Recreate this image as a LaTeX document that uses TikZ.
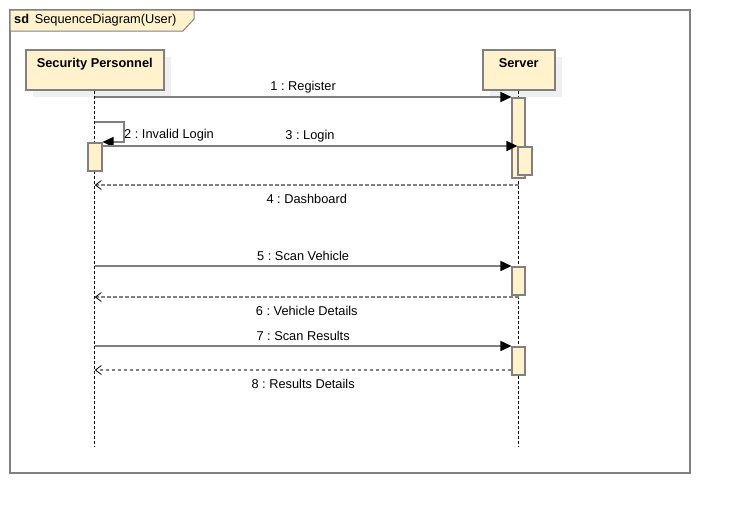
\documentclass[tikz,border=0pt]{standalone}
\usepackage{fontspec}
\setmainfont{Liberation Sans}
\usetikzlibrary{positioning,shadows,arrows.meta,calc}
\definecolor{cream}{HTML}{FFF2CC}
\definecolor{linegray}{HTML}{808080}
\frenchspacing

\begin{document}
\begin{tikzpicture}[x=1pt,y=-1pt,font=\fontsize{12.8}{15}\selectfont]
\tikzstyle{head} = [draw=linegray,fill=cream,line width=1.5pt,anchor=north west,inner xsep=0pt,inner ysep=8pt,text height=9.5pt,text depth=14.5pt,font=\fontsize{12.8}{15}\selectfont\bfseries,drop shadow={shadow xshift=7pt,shadow yshift=-7pt,fill=black!6,opacity=1}]
\tikzstyle{act} = [draw=linegray,fill=cream,line width=1.6pt,minimum width=13pt,inner sep=0pt,anchor=north]
\tikzstyle{life} = [black,line width=0.8pt,dash pattern=on 3pt off 2pt]
\tikzstyle{msg} = [linegray,line width=1.5pt,-{Triangle[length=11pt,width=10pt,black]}]
\tikzstyle{ret} = [linegray,line width=1.5pt,dash pattern=on 3.5pt off 2.5pt,-{Straight Barb[length=6pt,width=9pt,black,line width=0.8pt]}]
\useasboundingbox (0,0) rectangle (730,514);
% frame
\draw[linegray,line width=1.5pt] (10,10) rectangle (690,473);
\draw[linegray,fill=cream,line width=1pt] (10,10) -- (194,10) -- (194,19) -- (183,31) -- (10,31) -- cycle;
\node[anchor=west,inner sep=0pt] (title) at (14,20.5) {\textbf{sd}\, SequenceDiagram(User)};
% lifelines
\node[head,minimum width=138pt] (sp) at (25,49) {Security Personnel};
\node[head,minimum width=72pt] (sv) at (482,49) {Server};
\coordinate (spend) at (sp.south |- 0,447);
\coordinate (svend) at (sv.south |- 0,447);
\draw[life] (sp.south) -- (spend);
\draw[life] (sv.south) -- (svend);
% activations
\node[act,minimum height=80pt] (a1) at (sv.south |- 0,97) {};
\node[act,minimum width=14pt,minimum height=28pt] (a3) at ($(sv.south |- 0,146)+(6.5,0)$) {};
\node[act,minimum width=14pt,minimum height=28pt] (a2) at (sp.south |- 0,142) {};
\node[act,minimum height=28pt] (a4) at (sv.south |- 0,266) {};
\node[act,minimum height=28pt] (a5) at (sv.south |- 0,346) {};
% messages
\draw[msg] (sp.south |- a1.north) -- (a1.north west) node[midway,above=0pt,text=black] {1 : Register};
\draw[msg] (sp.south |- 0,122) -- ++(29,0) |- (a2.north east);
\node[anchor=west,inner sep=0pt] (l2) at (124,135.5) {2 : Invalid Login};
\draw[msg] (a2.east |- a3.north) -- (a3.north west) node[midway,above=0pt,text=black] {3 : Login};
\draw[ret] (sv.south |- 0,185) -- (sp.south |- 0,185) node[midway,below=5pt,text=black] {4 : Dashboard};
\draw[msg] (sp.south |- a4.north) -- (a4.north west) node[midway,above=1pt,text=black] {5 : Scan Vehicle};
\draw[ret] (sv.south |- 0,297) -- (sp.south |- 0,297) node[midway,below=5pt,text=black] {6 : Vehicle Details};
\draw[msg] (sp.south |- a5.north) -- (a5.north west) node[midway,above=1pt,text=black] {7 : Scan Results};
\draw[ret] (a5.west |- 0,370) -- (sp.south |- 0,370) node[midway,below=5pt,text=black] {8 : Results Details};
\end{tikzpicture}
\end{document}
